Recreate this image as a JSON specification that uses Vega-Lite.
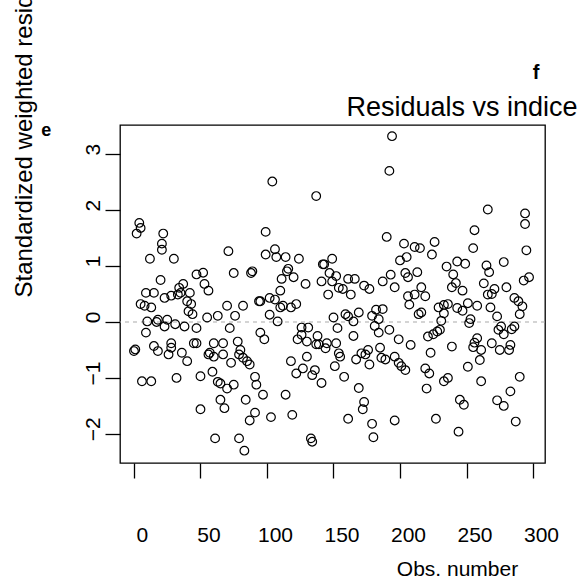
{
  "$schema": "https://vega.github.io/schema/vega-lite/v6.json",
  "autosize": {"type": "none"},
  "width": 425,
  "height": 338,
  "padding": {"left": 120, "top": 125, "right": 34, "bottom": 120},
  "background": "white",
  "config": {"view": {"stroke": "black", "strokeWidth": 1.3}, "font": "Liberation Sans"},
  "layer": [
    {
      "data": {"values": [{}]},
      "mark": {"type": "rule", "strokeDash": [4, 4], "color": "#aaaaaa", "strokeWidth": 1.2},
      "encoding": {"y": {"datum": 0, "type": "quantitative", "scale": {"domain": [-2.52, 3.52], "nice": false, "zero": false}}}
    },
    {
      "data": {"values": [
        {"i":0,"r":-0.52},{"i":1,"r":-0.49},{"i":2,"r":1.58},{"i":4,"r":1.77},{"i":5,"r":1.68},{"i":5,"r":0.32},{"i":6,"r":-1.06},{"i":8,"r":0.29},{"i":9,"r":0.52},{"i":9,"r":-0.19},{"i":10,"r":0.01},{"i":12,"r":1.13},{"i":13,"r":-1.06},{"i":13,"r":0.26},{"i":15,"r":0.52},{"i":15,"r":-0.43},{"i":17,"r":0.0},{"i":18,"r":0.04},{"i":18,"r":-0.52},{"i":20,"r":0.75},{"i":21,"r":1.29},{"i":21,"r":1.40},{"i":22,"r":1.58},{"i":23,"r":0.43},{"i":23,"r":-0.08},{"i":25,"r":0.04},{"i":26,"r":-0.58},{"i":28,"r":-0.38},{"i":28,"r":-0.46},{"i":28,"r":0.47},{"i":30,"r":1.13},{"i":31,"r":-0.04},{"i":32,"r":-1.0},{"i":33,"r":0.49},{"i":34,"r":0.61},{"i":35,"r":0.52},{"i":36,"r":-0.55},{"i":37,"r":0.68},{"i":38,"r":-0.08},{"i":40,"r":-0.70},{"i":40,"r":0.37},{"i":41,"r":0.19},{"i":42,"r":0.52},{"i":43,"r":0.32},{"i":44,"r":0.14},{"i":45,"r":-0.38},{"i":47,"r":0.85},{"i":47,"r":-0.38},{"i":47,"r":-0.11},{"i":50,"r":-0.97},{"i":50,"r":-1.56},
        {"i":52,"r":0.88},{"i":53,"r":0.68},{"i":55,"r":0.08},{"i":56,"r":0.56},{"i":56,"r":-0.58},{"i":57,"r":-0.55},{"i":59,"r":-0.89},{"i":60,"r":-0.38},{"i":60,"r":-0.62},{"i":61,"r":-2.08},{"i":63,"r":0.11},{"i":63,"r":-1.07},{"i":65,"r":-1.10},{"i":65,"r":-1.39},{"i":67,"r":-0.38},{"i":67,"r":-0.58},{"i":68,"r":-1.54},{"i":70,"r":-1.19},{"i":70,"r":0.29},{"i":71,"r":1.265},{"i":72,"r":-0.11},{"i":73,"r":-0.73},{"i":75,"r":0.875},{"i":75,"r":-1.12},{"i":76,"r":0.11},{"i":78,"r":-0.35},{"i":79,"r":-0.58},{"i":79,"r":-2.08},{"i":80,"r":-0.50},{"i":82,"r":0.29},{"i":82,"r":-0.64},{"i":83,"r":-2.30},{"i":84,"r":-1.39},{"i":85,"r":-0.70},{"i":87,"r":-0.76},{"i":87,"r":-1.76},{"i":88,"r":0.875},{"i":89,"r":0.905},{"i":91,"r":-0.98},{"i":91,"r":-1.62},{"i":92,"r":-1.12},{"i":94,"r":0.37},{"i":95,"r":0.37},{"i":95,"r":-0.19},{"i":97,"r":-1.30},{"i":98,"r":-0.31},{"i":99,"r":1.61},{"i":99,"r":1.205},
        {"i":102,"r":0.13},{"i":102,"r":0.43},{"i":103,"r":-1.70},{"i":104,"r":2.51},{"i":106,"r":1.30},{"i":106,"r":0.40},{"i":107,"r":1.16},{"i":108,"r":0.01},{"i":110,"r":0.56},{"i":110,"r":0.26},{"i":111,"r":0.77},{"i":112,"r":0.29},{"i":114,"r":1.16},{"i":114,"r":-1.30},{"i":115,"r":0.905},{"i":116,"r":0.95},{"i":118,"r":0.26},{"i":118,"r":-0.70},{"i":119,"r":-1.66},{"i":120,"r":0.80},{"i":122,"r":0.32},{"i":122,"r":-0.92},{"i":123,"r":-0.31},{"i":124,"r":1.13},{"i":126,"r":-0.10},{"i":126,"r":-0.23},{"i":127,"r":-0.83},{"i":129,"r":0.68},{"i":130,"r":-0.35},{"i":130,"r":-0.62},{"i":131,"r":-0.10},{"i":133,"r":-2.08},{"i":134,"r":-2.14},{"i":134,"r":-0.95},{"i":136,"r":-0.86},{"i":137,"r":2.25},{"i":137,"r":-0.40},{"i":138,"r":-0.25},{"i":139,"r":-0.40},{"i":141,"r":0.725},{"i":141,"r":-1.09},{"i":142,"r":1.03},{"i":143,"r":1.03},{"i":144,"r":-0.47},{"i":145,"r":-0.38},{"i":146,"r":0.49},{"i":147,"r":0.875},{"i":149,"r":1.13},{"i":149,"r":0.725},{"i":150,"r":0.08},{"i":151,"r":-0.79},{"i":152,"r":0.82},{"i":152,"r":-0.38},{"i":153,"r":-0.11},{"i":154,"r":0.61},{"i":154,"r":-0.56},{"i":155,"r":-0.62},
        {"i":157,"r":0.59},{"i":158,"r":-0.98},{"i":159,"r":0.14},{"i":161,"r":0.77},{"i":161,"r":0.10},{"i":161,"r":-1.73},{"i":163,"r":0.49},{"i":165,"r":0.01},{"i":165,"r":-0.25},{"i":166,"r":0.77},{"i":167,"r":-0.67},{"i":169,"r":0.17},{"i":169,"r":-1.18},{"i":171,"r":-0.56},{"i":172,"r":-1.56},{"i":173,"r":0.65},{"i":173,"r":-1.43},{"i":174,"r":-0.58},{"i":176,"r":-0.50},{"i":177,"r":0.59},{"i":177,"r":-0.76},{"i":179,"r":0.11},{"i":179,"r":-1.82},{"i":180,"r":-2.06},{"i":181,"r":-0.07},{"i":182,"r":0.22},{"i":184,"r":0.05},{"i":184,"r":-0.19},{"i":185,"r":-0.46},{"i":186,"r":-0.64},{"i":187,"r":0.725},{"i":187,"r":0.23},{"i":189,"r":-0.67},{"i":190,"r":1.52},{"i":192,"r":2.70},{"i":192,"r":-0.14},{"i":193,"r":0.845},{"i":194,"r":3.32},{"i":196,"r":0.62},{"i":196,"r":-0.62},{"i":196,"r":-1.76},{"i":199,"r":-0.31},{"i":199,"r":-0.73},{"i":200,"r":1.10},{"i":201,"r":-0.79},{"i":203,"r":1.40},{"i":204,"r":0.875},{"i":204,"r":-0.86},{"i":205,"r":1.16},{"i":206,"r":0.80},{"i":206,"r":0.46},{"i":207,"r":0.31},{"i":208,"r":-0.41},
        {"i":211,"r":1.34},{"i":211,"r":0.49},{"i":213,"r":0.89},{"i":214,"r":0.14},{"i":215,"r":1.32},{"i":216,"r":0.62},{"i":216,"r":0.17},{"i":219,"r":0.46},{"i":219,"r":-0.83},{"i":220,"r":-1.19},{"i":221,"r":-0.26},{"i":222,"r":-0.92},{"i":223,"r":-0.55},{"i":224,"r":1.205},{"i":225,"r":-0.22},{"i":226,"r":1.43},{"i":227,"r":-1.73},{"i":228,"r":-0.17},{"i":229,"r":0.26},{"i":230,"r":-0.14},{"i":231,"r":0.02},{"i":233,"r":0.155},{"i":233,"r":0.305},{"i":233,"r":-1.06},{"i":235,"r":0.99},{"i":236,"r":0.32},{"i":236,"r":-1.0},{"i":239,"r":0.62},{"i":239,"r":-0.44},{"i":240,"r":0.85},{"i":242,"r":0.695},{"i":243,"r":1.08},{"i":243,"r":0.25},{"i":244,"r":-1.96},{"i":245,"r":-1.39},{"i":247,"r":0.56},{"i":247,"r":0.20},{"i":248,"r":-1.48},{"i":249,"r":1.04},{"i":251,"r":0.335},{"i":251,"r":-0.80},{"i":252,"r":-0.02},{"i":253,"r":0.05},{"i":255,"r":1.32},{"i":255,"r":-0.45},{"i":256,"r":1.64},{"i":256,"r":-0.37},{"i":258,"r":0.29},{"i":258,"r":-0.29},{"i":260,"r":-0.68},
        {"i":261,"r":-0.50},{"i":261,"r":-1.06},{"i":263,"r":0.69},{"i":265,"r":1.01},{"i":266,"r":2.01},{"i":266,"r":0.49},{"i":267,"r":0.89},{"i":268,"r":0.26},{"i":269,"r":0.50},{"i":269,"r":-0.38},{"i":271,"r":0.59},{"i":273,"r":0.10},{"i":274,"r":-0.14},{"i":273,"r":-1.40},{"i":275,"r":-0.50},{"i":276,"r":-0.08},{"i":278,"r":1.07},{"i":278,"r":-0.22},{"i":278,"r":-1.50},{"i":280,"r":0.62},{"i":282,"r":-0.50},{"i":283,"r":-0.41},{"i":283,"r":-1.24},{"i":284,"r":-0.13},{"i":286,"r":0.43},{"i":286,"r":-0.08},{"i":287,"r":-1.78},{"i":289,"r":0.37},{"i":290,"r":0.14},{"i":290,"r":-0.98},{"i":292,"r":0.28},{"i":293,"r":0.74},{"i":294,"r":1.94},{"i":294,"r":1.75},{"i":295,"r":1.28},{"i":297,"r":0.80}
      ]},
      "mark": {"type": "point", "shape": "circle", "filled": false, "color": "black", "size": 75, "strokeWidth": 1.2, "opacity": 1},
      "encoding": {
        "x": {"field": "i", "type": "quantitative",
          "scale": {"domain": [-10.5, 309], "nice": false, "zero": false},
          "axis": {"values": [0, 50, 100, 150, 200, 250, 300], "format": "d", "title": "Obs. number", "domain": false, "grid": false, "tickSize": 15, "tickColor": "black", "tickWidth": 1.3, "labelFontSize": 21, "labelColor": "black", "labelPadding": 46, "labelOffset": 8, "labelFont": "Liberation Sans", "titleFont": "Liberation Sans", "titleFontSize": 21, "titleFontWeight": "normal", "titleColor": "black", "titleX": 337, "titleY": 112, "titleBaseline": "alphabetic"}},
        "y": {"field": "r", "type": "quantitative",
          "scale": {"domain": [-2.52, 3.52], "nice": false, "zero": false},
          "axis": {"values": [-2, -1, 0, 1, 2, 3], "format": "d", "domain": false, "grid": false, "tickSize": 15, "tickColor": "black", "tickWidth": 1.3, "labelAngle": 270, "labelAlign": "center", "labelBaseline": "bottom", "labelPadding": 2, "labelOffset": -5, "labelFontSize": 21, "labelColor": "black", "labelFont": "Liberation Sans", "title": "Standardized weighted residuals", "titleFont": "Liberation Sans", "titleAngle": 270, "titleAlign": "left", "titleBaseline": "alphabetic", "titleX": -89, "titleY": 172, "titleFontSize": 24, "titleFontWeight": "normal", "titleColor": "black"}}
      }
    },
    {
      "data": {"values": [{}]},
      "mark": {"type": "text", "text": "Residuals vs indice", "fontSize": 27, "font": "Liberation Sans", "color": "black", "align": "right", "baseline": "alphabetic"},
      "encoding": {
        "x": {"datum": 333.5, "type": "quantitative", "scale": {"domain": [-10.5, 309], "nice": false, "zero": false}},
        "y": {"datum": 3.68, "type": "quantitative", "scale": {"domain": [-2.52, 3.52], "nice": false, "zero": false}}
      }
    },
    {
      "data": {"values": [{}]},
      "mark": {"type": "text", "text": "f", "fontWeight": "bold", "fontSize": 20, "font": "Liberation Sans", "color": "black", "align": "center", "baseline": "alphabetic"},
      "encoding": {
        "x": {"datum": 302.3, "type": "quantitative", "scale": {"domain": [-10.5, 309], "nice": false, "zero": false}},
        "y": {"datum": 4.34, "type": "quantitative", "scale": {"domain": [-2.52, 3.52], "nice": false, "zero": false}}
      }
    },
    {
      "data": {"values": [{}]},
      "mark": {"type": "text", "text": "e", "fontWeight": "bold", "fontSize": 18, "font": "Liberation Sans", "color": "black", "align": "center", "baseline": "alphabetic"},
      "encoding": {
        "x": {"datum": -66, "type": "quantitative", "scale": {"domain": [-10.5, 309], "nice": false, "zero": false}},
        "y": {"datum": 3.33, "type": "quantitative", "scale": {"domain": [-2.52, 3.52], "nice": false, "zero": false}}
      }
    }
  ]
}
